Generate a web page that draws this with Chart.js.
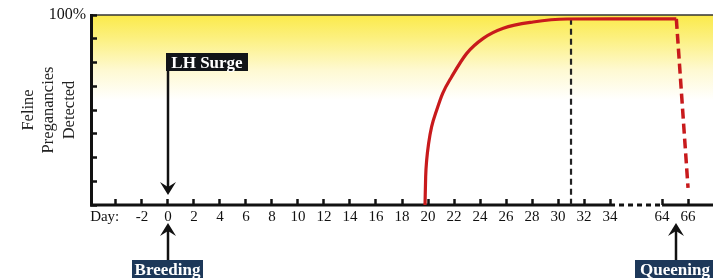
<!DOCTYPE html>
<html>
<head>
<meta charset="utf-8">
<script src="https://cdn.jsdelivr.net/npm/chart.js@4.4.1/dist/chart.umd.min.js"></script>
<style>
  html, body { margin: 0; padding: 0; background: #fff; }
</style>
</head>
<body>
<canvas id="chart" width="713" height="278"></canvas>
<script>
// days shown on the x axis (axis is broken between 34 and 64)
const tickDays = [-4, -2, 0, 2, 4, 6, 8, 10, 12, 14, 16, 18, 20, 22, 24, 26, 28, 30, 32, 34, 64, 66];
// detection curve
const curveDays = [19.77, 19.82, 19.9, 20.05, 20.28, 20.67, 21.13, 21.82, 22.98, 24.25, 25.79, 28.08, 30.7, 34, 64, 65.1];
const curvePct = [0, 14.9, 23.7, 32.5, 41.2, 50, 58.8, 67.5, 79.8, 87.7, 93, 96.3, 97.9, 98, 98, 98];
const dropDays = [65.1, 66];
const dropPct = [98, 9];
const confirmDay = 31;
const confirmPct = [98, -1];
const yTicks = [0, 12.5, 25, 37.5, 50, 62.5, 75, 87.5, 100];
const yTitle = ["Feline", "Preganancies", "Detected"];
const lhSurgeDay = 0;
const breedingDay = 0;
const queeningDay = 65.1;

const BREAK_FROM = 34;
const BREAK_TO = 64;
const BREAK_GAP = 4;
const SHIFT = BREAK_TO - BREAK_FROM - BREAK_GAP;
const axisPos = (d) => (d > BREAK_FROM ? d - SHIFT : d);
const axisDay = (p) => (p > BREAK_FROM ? p + SHIFT : p);

const X_MIN = -5.92;
const X_MAX = 41.92;
const RED = "#c81a1c";
const SERIF = "'Liberation Serif', 'DejaVu Serif', serif";

const toPoints = (days, vals) => days.map((d, i) => ({ x: axisPos(d), y: vals[i] }));

const paper = {
  id: "paper",
  beforeDraw(chart) {
    const { ctx, chartArea: a } = chart;
    ctx.save();
    const g = ctx.createLinearGradient(0, a.top, 0, a.top + 85);
    g.addColorStop(0, "#fbea4a");
    g.addColorStop(0.3, "#fcf185");
    g.addColorStop(0.65, "#fef9d2");
    g.addColorStop(1, "#ffffff");
    ctx.fillStyle = g;
    ctx.fillRect(a.left, a.top, a.right - a.left, 85);
    ctx.strokeStyle = "#333";
    ctx.lineWidth = 1.5;
    ctx.beginPath();
    ctx.moveTo(a.left, a.top);
    ctx.lineTo(a.right, a.top);
    ctx.stroke();
    ctx.restore();
  },
  afterDraw(chart) {
    const { ctx } = chart;
    const xs = chart.scales.x;
    const x0 = Math.round(xs.getPixelForValue(axisPos(lhSurgeDay)));
    const xb = Math.round(xs.getPixelForValue(axisPos(breedingDay)));
    const xq = Math.round(xs.getPixelForValue(axisPos(queeningDay)));

    const arrow = (x, from, tip) => {
      const dir = tip > from ? 1 : -1;
      ctx.strokeStyle = "#111";
      ctx.fillStyle = "#111";
      ctx.lineWidth = 2.5;
      ctx.beginPath();
      ctx.moveTo(x, from);
      ctx.lineTo(x, tip - dir * 6);
      ctx.stroke();
      ctx.beginPath();
      ctx.moveTo(x, tip);
      ctx.lineTo(x - 8, tip - dir * 13);
      ctx.lineTo(x, tip - dir * 8);
      ctx.lineTo(x + 8, tip - dir * 13);
      ctx.closePath();
      ctx.fill();
    };

    const label = (text, left, top, w, h, fill) => {
      ctx.fillStyle = fill;
      ctx.fillRect(left, top, w, h);
      ctx.fillStyle = "#fff";
      ctx.font = "bold 17px " + SERIF;
      ctx.textAlign = "center";
      ctx.textBaseline = "top";
      ctx.fillText(text, left + w / 2, top + 2);
    };

    ctx.save();
    arrow(x0, 70, 195);
    label("LH Surge", x0 - 2, 53, 82, 18, "#111418");
    arrow(xb, 260, 223);
    label("Breeding", xb - 36, 260, 71, 20, "#1d3859");
    arrow(xq, 260, 223);
    label("Queening", xq - 41, 260, 80, 20, "#1d3859");
    ctx.restore();
  },
};

new Chart(document.getElementById("chart"), {
  type: "line",
  data: {
    datasets: [
      {
        data: toPoints(curveDays, curvePct),
        borderColor: RED,
        borderWidth: 3.2,
        pointRadius: 0,
        cubicInterpolationMode: "monotone",
      },
      {
        data: toPoints(dropDays, dropPct),
        borderColor: RED,
        borderWidth: 3.5,
        borderDash: [10, 5],
        pointRadius: 0,
      },
      {
        data: toPoints([confirmDay, confirmDay], confirmPct),
        borderColor: "#222",
        borderWidth: 2.2,
        borderDash: [6, 4],
        pointRadius: 0,
        clip: false,
      },
      {
        // baseline with the dotted break
        data: [
          { x: X_MIN, y: 0 },
          { x: axisPos(BREAK_FROM), y: 0 },
          { x: axisPos(BREAK_TO), y: 0 },
          { x: X_MAX, y: 0 },
        ],
        borderColor: "#111",
        borderWidth: 3,
        pointRadius: 0,
        clip: false,
        segment: {
          borderDash: (ctx) => (ctx.p0DataIndex === 1 ? [5, 4] : undefined),
        },
      },
    ],
  },
  options: {
    responsive: false,
    animation: false,
    devicePixelRatio: 1,
    layout: { padding: { top: 15, right: 0, bottom: 0, left: 0 } },
    plugins: { legend: { display: false }, tooltip: { enabled: false } },
    scales: {
      x: {
        type: "linear",
        min: X_MIN,
        max: X_MAX,
        afterBuildTicks: (scale) => {
          scale.ticks = tickDays.map((d) => ({ value: axisPos(d) }));
        },
        afterFit: (scale) => {
          scale.height = 73;
        },
        border: { display: false },
        grid: {
          drawOnChartArea: false,
          tickLength: -6,
          tickColor: "#111",
          tickWidth: 2.5,
        },
        ticks: {
          autoSkip: false,
          maxRotation: 0,
          padding: 9,
          color: "#111",
          font: { family: SERIF, size: 15 },
          callback: (v) => {
            const d = axisDay(v);
            return d === -4 ? "Day:      " : String(d);
          },
        },
      },
      y: {
        min: 0,
        max: 100,
        afterBuildTicks: (scale) => {
          scale.ticks = yTicks.map((v) => ({ value: v }));
        },
        afterFit: (scale) => {
          scale.width = 91;
          scale.paddingTop = 0;
          scale.paddingBottom = 0;
        },
        border: { display: true, color: "#111", width: 3 },
        grid: {
          drawOnChartArea: false,
          tickLength: -6,
          tickColor: "#111",
          tickWidth: 2.5,
        },
        ticks: {
          padding: 11,
          color: "#111",
          font: { family: SERIF, size: 16 },
          callback: (v) => (v === 100 ? "100%" : ""),
        },
        title: {
          display: true,
          text: yTitle,
          color: "#222",
          font: { family: SERIF, size: 16.5, lineHeight: 1.25 },
          padding: { top: 18, bottom: 0 },
        },
      },
    },
  },
  plugins: [paper],
});
</script>
</body>
</html>
